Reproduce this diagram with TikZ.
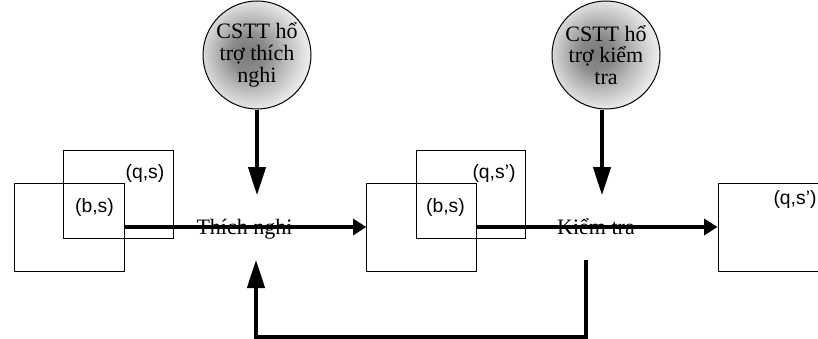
\documentclass[tikz,border=0pt]{standalone}
\usepackage{fontspec}
\setmainfont{Liberation Serif}
\newfontfamily\labelfont{Liberation Sans}
\usetikzlibrary{arrows.meta}
% grey sphere-like fill for the support bubbles (path box maps to the central 50bp)
\pgfdeclareradialshading{cstt}{\pgfpoint{-5bp}{1bp}}{%
  color(0bp)=(black!52); color(8bp)=(black!46); color(16bp)=(black!28); color(25bp)=(black!10); color(30bp)=(black!4); color(50bp)=(white)}
\begin{document}
\begin{tikzpicture}[x=0.75pt,y=-0.75pt,
  statebox/.style={draw, line width=0.75pt, minimum width=82pt, minimum height=66pt, inner sep=0pt},
  lbl/.style={font=\labelfont\fontsize{14.5}{17}\selectfont, inner sep=0pt},
  stage/.style={font=\fontsize{16.5}{16.5}\selectfont, anchor=base, inner sep=0pt},
  bubble/.style={circle, draw, line width=0.75pt, minimum size=81pt, inner sep=0pt,
    shading=cstt, align=center, font=\fontsize{16.5}{16.2}\selectfont},
  flow/.style={line width=2.5pt, -{Triangle[length=10pt,width=12pt]}},
  feed/.style={line width=2.5pt, -{Triangle[length=21pt,width=13pt]}}]
\useasboundingbox (0,0) rectangle (818,339);
\clip (0,0) rectangle (818,339);

% first state pair
\node[statebox] (b1back)  at (118.5,194.5) {};
\node[statebox] (b1front) at (69.5,227) {};
\node[lbl] (l1q) at (145,173) {(q,s)};
\node[lbl] (l1b) at (94.5,207) {(b,s)};

% second state pair
\node[statebox] (b2back)  at (471,194.5) {};
\node[statebox] (b2front) at (421.5,227) {};
\node[lbl] (l2q) at (494,173) {(q,s’)};
\node[lbl] (l2b) at (445.5,207) {(b,s)};

% result state
\node[statebox, minimum width=90pt] (b3) at (778,227) {};
\node[lbl] (l3q) at (795,200) {(q,s’)};

% support bubbles
\node[bubble] (c1) at (257,55) {CSTT hổ\\trợ thích\\nghi};
\node[bubble] (c2) at (606,55) {CSTT hổ\\trợ kiểm\\tra};

% stage names
\node[stage] (s1) at (244.5,234) {Thích nghi};
\node[stage] (s2) at (596,234) {Kiểm tra};

% main flow
\draw[flow] (b1front.east) -- (b2front.west);
\draw[flow] (b2front.east) -- (b3.west);

% support inputs
\coordinate (t1) at (257,195);
\coordinate (t2) at (602,195);
\draw[feed] (c1.south) -- (t1);
\draw[feed] (c2.south -| t2) -- (t2);

% feedback loop from checking back to adaptation
\coordinate (f0) at (586,260);
\coordinate (f1) at (586,337);
\coordinate (f2) at (256,337);
\coordinate (f3) at (256,260);
\draw[feed] (f0) -- (f1) -- (f2) -- (f3);
\end{tikzpicture}
\end{document}
